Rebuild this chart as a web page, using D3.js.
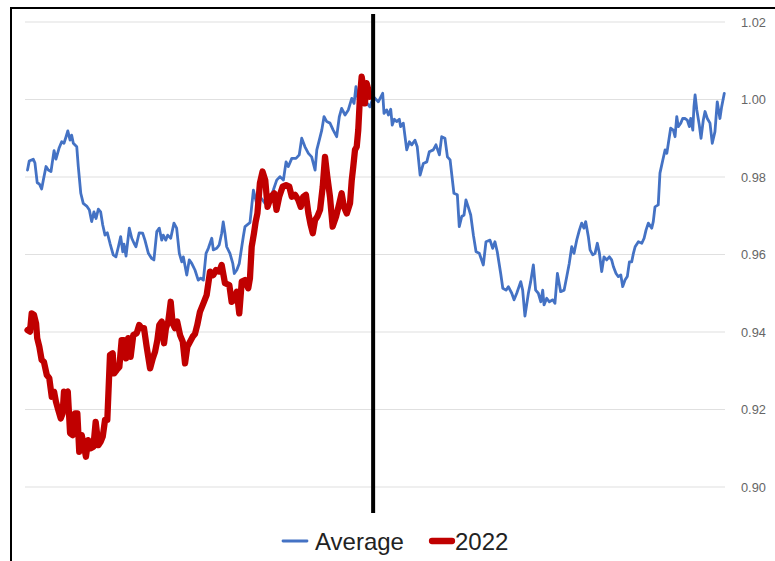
<!DOCTYPE html>
<html>
<head>
<meta charset="utf-8">
<script src="https://cdn.jsdelivr.net/npm/d3@7"></script>
<style>
  html, body { margin: 0; padding: 0; background: #fff; }
  svg { display: block; font-family: "Liberation Sans", Arial, sans-serif; }
</style>
</head>
<body>
<svg id="chart" width="775" height="561"></svg>
<script>
// ---- data (day of year, value) ----
const avgDays = [0,0.9,3.0,3.9,5.1,6.2,7.4,8.3,9.7,10.9,12.3,13.9,14.9,16.5,17.9,19.1,20.2,21.1,22.3,23.1,24.0,25.8,26.6,27.9,29.2,31.0,32.4,33.6,34.8,35.9,37.1,38.3,39.4,40.6,41.8,43.2,44.9,46.3,47.6,48.8,49.9,50.5,51.6,53.3,54.6,55.8,56.8,58.5,60.3,61.5,63.3,65.0,66.2,67.7,69.0,70.3,71.1,72.4,73.4,75.0,76.7,78.1,79.5,80.8,81.6,83.4,84.7,86.0,87.7,89.4,90.7,92.1,93.5,94.7,96.5,97.3,99.1,100.4,101.7,102.5,103.4,104.3,106.0,107.5,108.3,109.6,110.9,112.2,113.0,113.9,116.5,118.3,120.0,121.8,124.4,127.0,128.7,130.5,132.2,134.0,135.4,136.6,138.4,140.6,142.3,143.6,145.3,147.1,148.8,150.6,151.5,152.8,154.1,155.3,156.7,158.4,160.1,161.9,163.3,164.5,166.3,168.0,169.8,171.0,172.0,173.2,175.2,177.3,179.3,181.1,182.0,183.7,186.0,186.7,188.1,189.0,190.2,191.0,192.1,193.3,194.7,195.4,196.8,198.6,200.0,201.2,202.9,204.1,205.6,207.3,209.1,210.4,212.5,213.9,215.7,216.9,218.6,219.9,221.3,223.3,225.1,226.1,227.4,228.6,229.6,230.8,232.1,233.5,234.9,236.6,238.7,240.1,242.2,243.6,244.8,246.0,247.8,248.9,250.6,251.8,253.6,254.8,256.2,258.3,259.3,260.5,262.3,263.5,264.9,266.1,267.5,268.8,269.8,270.5,271.9,273.3,275.1,276.2,277.5,279.2,281.0,282.4,283.7,285.0,286.2,287.6,289.0,290.2,291.4,292.3,293.7,294.6,296.0,297.2,298.4,299.5,300.7,301.9,303.3,304.7,305.9,306.8,308.2,309.4,310.7,311.7,312.9,314.1,315.2,316.4,317.3,318.2,319.9,321.7,322.9,323.9,325.1,326.9,327.7,328.6,330.3,331.2,332.7,333.9,334.8,335.6,336.8,338.2,339.1,340.0,340.8,342.1,343.1,344.3,345.5,346.6,347.3,348.4,349.0,349.6,350.5,351.8,352.7,353.9,354.8,356.0,357.4,358.6,360.0,361.2,362.6,363.5,364.9];
const avgValues = [0.9818,0.9841,0.9846,0.9836,0.9785,0.9782,0.9769,0.9792,0.9827,0.9818,0.9814,0.9868,0.9846,0.9874,0.9891,0.9887,0.9904,0.9919,0.9895,0.9908,0.9887,0.9878,0.9827,0.9758,0.9732,0.9725,0.9715,0.9685,0.9710,0.9693,0.9717,0.9710,0.9676,0.9650,0.9656,0.9629,0.9599,0.9594,0.9620,0.9646,0.9607,0.9627,0.9596,0.9668,0.9642,0.9629,0.9620,0.9656,0.9655,0.9637,0.9603,0.9590,0.9586,0.9659,0.9668,0.9637,0.9650,0.9637,0.9650,0.9642,0.9681,0.9668,0.9603,0.9581,0.9594,0.9547,0.9586,0.9577,0.9560,0.9534,0.9539,0.9534,0.9603,0.9616,0.9642,0.9612,0.9616,0.9625,0.9655,0.9684,0.9655,0.9620,0.9603,0.9577,0.9551,0.9560,0.9577,0.9620,0.9646,0.9672,0.9682,0.9766,0.9732,0.9749,0.9732,0.9745,0.9766,0.9792,0.9801,0.9792,0.9839,0.9827,0.9848,0.9848,0.9857,0.9900,0.9878,0.9861,0.9852,0.9818,0.9870,0.9895,0.9921,0.9956,0.9943,0.9939,0.9921,0.9904,0.9956,0.9977,0.9960,0.9973,1.0003,0.9990,1.0033,0.9999,1.0012,0.9994,0.9981,1.0007,1.0003,0.9994,1.0016,0.9964,0.9973,0.9960,0.9975,0.9934,0.9949,0.9943,0.9949,0.9930,0.9939,0.9870,0.9891,0.9883,0.9895,0.9878,0.9805,0.9835,0.9839,0.9865,0.9870,0.9883,0.9857,0.9904,0.9900,0.9852,0.9844,0.9758,0.9754,0.9672,0.9698,0.9702,0.9741,0.9723,0.9702,0.9650,0.9607,0.9603,0.9573,0.9633,0.9637,0.9616,0.9633,0.9607,0.9551,0.9513,0.9508,0.9517,0.9500,0.9483,0.9500,0.9530,0.9508,0.9441,0.9500,0.9530,0.9573,0.9508,0.9500,0.9478,0.9508,0.9470,0.9487,0.9478,0.9483,0.9474,0.9551,0.9504,0.9508,0.9543,0.9577,0.9620,0.9603,0.9637,0.9663,0.9681,0.9668,0.9685,0.9646,0.9612,0.9599,0.9603,0.9629,0.9603,0.9556,0.9594,0.9586,0.9594,0.9586,0.9569,0.9551,0.9543,0.9547,0.9517,0.9534,0.9543,0.9581,0.9581,0.9603,0.9620,0.9633,0.9629,0.9642,0.9663,0.9681,0.9668,0.9685,0.9723,0.9728,0.9810,0.9844,0.9870,0.9861,0.9887,0.9926,0.9921,0.9904,0.9956,0.9930,0.9939,0.9951,0.9951,0.9947,0.9930,0.9951,0.9921,0.9981,1.0012,0.9973,0.9934,0.9900,0.9947,0.9969,0.9951,0.9939,0.9887,0.9917,0.9994,0.9951,0.9981,1.0016];

const y2022Days = [0,1.3,2.2,3.4,4.5,5.1,6.2,7.4,8.6,10.1,11.4,12.7,13.9,14.9,16.1,17.4,18.4,19.1,20.2,21.1,22.3,23.7,24.9,26.1,27.1,28.4,29.6,30.6,31.8,33.1,34.5,35.7,37.1,38.3,39.4,40.6,41.8,43.2,44.6,45.3,46.7,48.1,49.3,50.5,51.6,52.8,54.0,55.4,57.2,58.5,59.8,61.0,62.4,64.2,65.6,66.8,68.0,69.0,70.3,71.5,72.5,73.7,75.0,76.0,77.2,78.4,79.9,81.3,82.5,83.7,85.1,86.5,87.7,88.9,90.3,92.1,93.8,95.6,97.3,98.7,100.4,101.7,103.4,105.7,106.9,108.1,109.6,110.9,112.2,113.9,115.6,116.5,117.4,118.6,119.5,120.4,121.7,123.1,124.5,125.7,127.5,129.2,130.4,131.8,133.6,135.4,137.1,138.4,140.1,141.8,143.1,144.4,145.8,147.1,148.3,149.4,150.6,151.8,153.2,154.6,155.8,157.0,158.4,159.8,161.6,163.3,164.5,165.7,167.2,168.9,169.8,170.6,171.5,172.4,173.2,174.1,175.0,175.8,176.7,177.6,178.5,179.3];
const y2022Values = [0.9405,0.9401,0.9448,0.9444,0.9422,0.9384,0.9362,0.9328,0.9323,0.9289,0.9281,0.9233,0.9246,0.9220,0.9199,0.9177,0.9190,0.9246,0.9242,0.9246,0.9139,0.9134,0.9190,0.9190,0.9091,0.9134,0.9104,0.9078,0.9121,0.9100,0.9104,0.9168,0.9108,0.9117,0.9130,0.9173,0.9173,0.9341,0.9345,0.9293,0.9302,0.9310,0.9379,0.9379,0.9332,0.9384,0.9336,0.9392,0.9397,0.9418,0.9410,0.9410,0.9362,0.9306,0.9332,0.9349,0.9379,0.9418,0.9427,0.9371,0.9410,0.9427,0.9478,0.9422,0.9410,0.9427,0.9392,0.9375,0.9319,0.9362,0.9375,0.9388,0.9395,0.9418,0.9452,0.9474,0.9495,0.9556,0.9547,0.9560,0.9556,0.9573,0.9526,0.9521,0.9478,0.9483,0.9504,0.9448,0.9530,0.9534,0.9513,0.9539,0.9620,0.9655,0.9685,0.9706,0.9784,0.9814,0.9792,0.9723,0.9749,0.9758,0.9715,0.9749,0.9775,0.9779,0.9775,0.9749,0.9754,0.9741,0.9723,0.9749,0.9754,0.9706,0.9676,0.9655,0.9689,0.9698,0.9715,0.9775,0.9852,0.9801,0.9749,0.9672,0.9698,0.9732,0.9758,0.9723,0.9706,0.9732,0.9792,0.9827,0.9870,0.9878,0.9921,1.0007,1.0059,1.0033,0.9990,1.0042,1.0025,1.0007];

const todayDay = 181;
const yTicks = [0.90, 0.92, 0.94, 0.96, 0.98, 1.00, 1.02];
const seriesNames = ["Average", "2022"];
const seriesColors = ["#4472c4", "#c00000"];

// ---- drawing ----
const svg = d3.select("#chart");
const x = d3.scaleLinear().domain([0, 365]).range([27.5, 724.5]);
const y = d3.scaleLinear().domain([0.90, 1.02]).range([487, 22]);

// frame
svg.append("rect").attr("x", 11).attr("y", 8).attr("width", 800).attr("height", 600)
  .attr("fill", "none").attr("stroke", "#000").attr("stroke-width", 2);

// gridlines
svg.append("g").selectAll("line").data(yTicks).join("line")
  .attr("x1", 25).attr("x2", 725)
  .attr("y1", d => y(d)).attr("y2", d => y(d))
  .attr("stroke", "#e0e0e0").attr("stroke-width", 1.2);

// right axis labels
const axis = svg.append("g").attr("transform", "translate(735,0)")
  .call(d3.axisRight(y).tickValues(yTicks).tickFormat(d3.format(".2f")).tickSize(0).tickPadding(6));
axis.select(".domain").remove();
axis.selectAll("text").attr("fill", "#666").style("font-size", "12.8px")
  .style("font-family", "'Liberation Sans', Arial, sans-serif");

const line = d3.line().x(d => x(d[0])).y(d => y(d[1])).curve(d3.curveLinear);
const avgData = avgDays.map((d, i) => [d, avgValues[i]]);
const curData = y2022Days.map((d, i) => [d, y2022Values[i]]);

svg.append("path").datum(avgData).attr("d", line)
  .attr("fill", "none").attr("stroke", seriesColors[0]).attr("stroke-width", 2.8)
  .attr("stroke-linejoin", "round").attr("stroke-linecap", "round");

svg.append("path").datum(curData).attr("d", line)
  .attr("fill", "none").attr("stroke", seriesColors[1]).attr("stroke-width", 6.3)
  .attr("stroke-linejoin", "round").attr("stroke-linecap", "round");

// today marker
svg.append("line").attr("x1", x(todayDay)).attr("x2", x(todayDay))
  .attr("y1", 14).attr("y2", 513).attr("stroke", "#000").attr("stroke-width", 4);

// legend
const legend = svg.append("g");
const legendItems = [
  { name: seriesNames[0], color: seriesColors[0], w: 2.8, x0: 283, x1: 307, tx: 315 },
  { name: seriesNames[1], color: seriesColors[1], w: 6.3, x0: 432, x1: 452, tx: 455 }
];
legendItems.forEach(it => {
  legend.append("line").attr("x1", it.x0).attr("x2", it.x1).attr("y1", 541).attr("y2", 541)
    .attr("stroke", it.color).attr("stroke-width", it.w).attr("stroke-linecap", "round");
  legend.append("text").attr("x", it.tx).attr("y", 549.5).text(it.name)
    .attr("fill", "#222").style("font-size", "24px");
});
</script>
</body>
</html>
